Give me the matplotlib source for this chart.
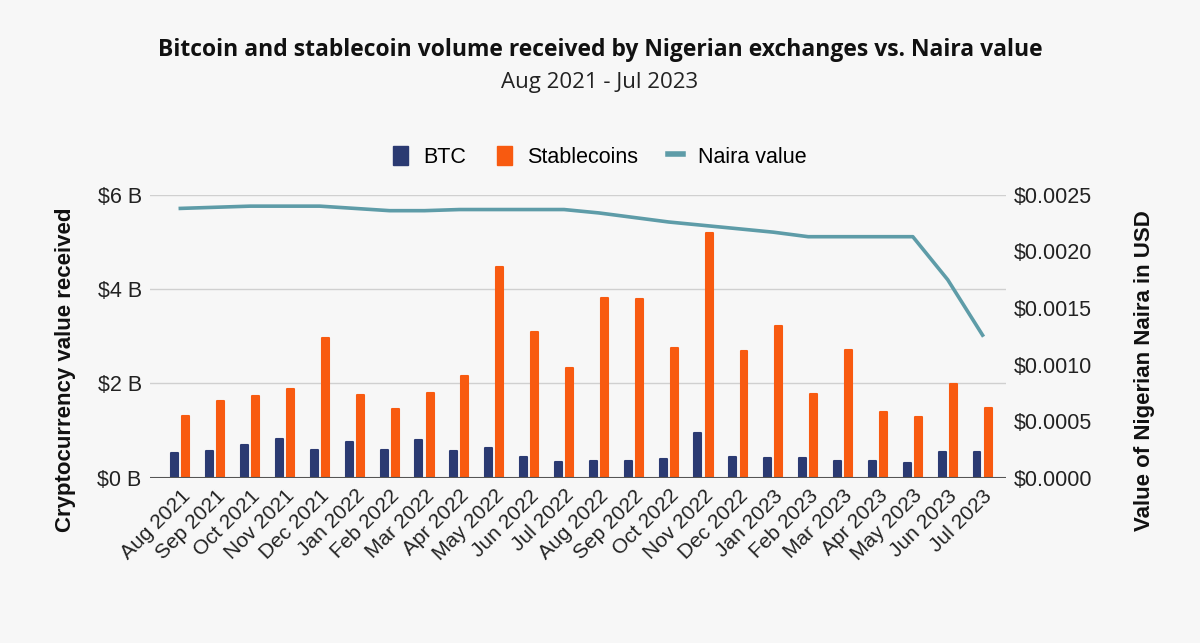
import matplotlib.pyplot as plt
from matplotlib.lines import Line2D
from matplotlib.patches import Patch
import numpy as np

months = ["Aug 2021", "Sep 2021", "Oct 2021", "Nov 2021", "Dec 2021", "Jan 2022",
          "Feb 2022", "Mar 2022", "Apr 2022", "May 2022", "Jun 2022", "Jul 2022",
          "Aug 2022", "Sep 2022", "Oct 2022", "Nov 2022", "Dec 2022", "Jan 2023",
          "Feb 2023", "Mar 2023", "Apr 2023", "May 2023", "Jun 2023", "Jul 2023"]

btc = [0.52, 0.56, 0.69, 0.83, 0.59, 0.76, 0.59, 0.79, 0.56, 0.63, 0.43, 0.33,
       0.36, 0.36, 0.40, 0.95, 0.45, 0.42, 0.42, 0.35, 0.35, 0.31, 0.54, 0.54]

stablecoins = [1.32, 1.63, 1.73, 1.89, 2.96, 1.76, 1.46, 1.80, 2.16, 4.46, 3.09, 2.33,
               3.81, 3.79, 2.75, 5.19, 2.68, 3.21, 1.78, 2.71, 1.39, 1.28, 1.99, 1.48]

naira = [0.00238, 0.00239, 0.00240, 0.00240, 0.00240, 0.00238, 0.00236, 0.00236,
         0.00237, 0.00237, 0.00237, 0.00237, 0.00234, 0.00230, 0.00226, 0.00223,
         0.00220, 0.00217, 0.00213, 0.00213, 0.00213, 0.00213, 0.00175, 0.00126]

btc_color = "#2b3a72"
stable_color = "#f85a10"
naira_color = "#5e9ca8"
bg = "#f7f7f7"
txt = "#222222"

plt.rcParams['font.family'] = ['Liberation Sans', 'DejaVu Sans']

fig = plt.figure(figsize=(12, 6.43), dpi=100, facecolor=bg)
ax = fig.add_axes([0.125, 0.257, 0.713, 0.440])
ax.set_facecolor(bg)
ax2 = ax.twinx()

x = np.arange(len(months))
w = 0.2
ax.bar(x - 0.16, btc, width=w, color=btc_color, edgecolor=btc_color,
       linewidth=1.5, joinstyle="round", zorder=3)
ax.bar(x + 0.16, stablecoins, width=w, color=stable_color, edgecolor=stable_color,
       linewidth=1.5, joinstyle="round", zorder=3)

ax2.plot(x, naira, color=naira_color, linewidth=2.6, zorder=4)

ax.set_xlim(-0.87, 23.66)
ax.set_ylim(0, 6)
ax2.set_ylim(0, 0.0025)

ax.set_yticks([0, 2, 4, 6])
ax.set_yticklabels(["$0 B", "$2 B", "$4 B", "$6 B"], fontsize=15.5, color=txt)
ax2.set_yticks([0, 0.0005, 0.0010, 0.0015, 0.0020, 0.0025])
ax2.set_yticklabels(["$0.0000", "$0.0005", "$0.0010", "$0.0015", "$0.0020", "$0.0025"],
                    fontsize=15.5, color=txt)

ax.set_xticks(x)
ax.set_xticklabels(months, rotation=45, ha="right", rotation_mode="anchor",
                   fontsize=15, color=txt)

ax.grid(axis="y", color="#d0d0d0", linewidth=1, zorder=0)
for a in (ax, ax2):
    for side in ("top", "left", "right", "bottom"):
        a.spines[side].set_visible(False)
    a.tick_params(length=0, pad=6)
ax.axhline(0, color="#555555", linewidth=1.5, zorder=5)

ax.set_ylabel("Cryptocurrency value received", fontsize=16, fontweight="bold", color="#111111")
ax2.set_ylabel("Value of Nigerian Naira in USD", fontsize=16, fontweight="bold", color="#111111")
ax.yaxis.set_label_coords(-0.087, 0.38)
ax2.yaxis.set_label_coords(1.15, 0.38)

fig.text(0.5, 0.922, "Bitcoin and stablecoin volume received by Nigerian exchanges vs. Naira value",
         ha="center", va="center", fontsize=16.5, fontweight="bold", family="Open Sans",
         color="#111111")
fig.text(0.5, 0.872, "Aug 2021 - Jul 2023", ha="center", va="center", fontsize=16,
         family="Open Sans", color=txt)

handles = [Patch(color=btc_color, label="BTC"),
           Patch(color=stable_color, label="Stablecoins"),
           Line2D([0], [0], color=naira_color, linewidth=4, label="Naira value")]
fig.legend(handles=handles, loc="center", bbox_to_anchor=(0.5, 0.756), ncol=3,
           frameon=False, fontsize=15.5, handlelength=0.7, handleheight=1.0,
           columnspacing=1.4, handletextpad=0.7)

fig.savefig("out.png", dpi=100, facecolor=bg)
